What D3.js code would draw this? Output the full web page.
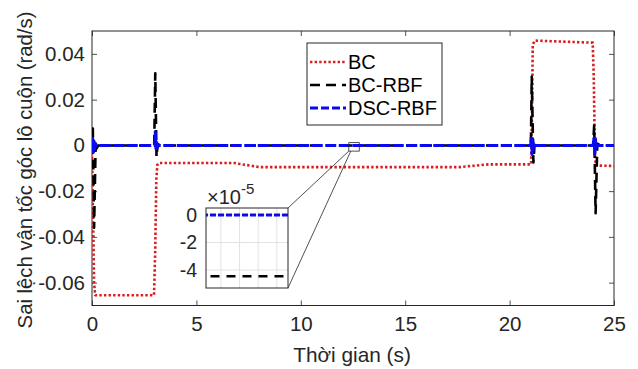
<!DOCTYPE html>
<html>
<head>
<meta charset="utf-8">
<script src="https://cdn.jsdelivr.net/npm/d3@7"></script>
<style>
  html, body { margin: 0; padding: 0; background: #fff; }
  svg { display: block; font-family: "Liberation Sans", Arial, sans-serif; }
</style>
</head>
<body>
<svg id="chart" width="638" height="369"></svg>
<script>
// Time axis and tick labels
const xTicks = [0, 5, 10, 15, 20, 25];
const yTicks = [-0.06, -0.04, -0.02, 0, 0.02, 0.04];
const yTickLabels = ["-0.06", "-0.04", "-0.02", "0", "0.02", "0.04"];

// BC: error of the basic controller
const tBC = [0, 0.03, 0.06, 0.1, 0.15, 2.97, 3.03, 3.08, 3.13, 3.2, 6.8, 7.4, 8.0, 17.6, 18.3, 19.0, 21.03, 21.07, 21.11, 21.2, 23.98, 24.03, 24.08, 24.12, 25];
const vBC = [-0.001, -0.02, -0.036, -0.06, -0.0655, -0.0655, -0.045, -0.015, -0.0085, -0.0077, -0.0077, -0.0086, -0.0095, -0.0095, -0.0089, -0.0083, -0.0083, 0.012, 0.044, 0.0458, 0.0449, 0.03, 0.0, -0.0088, -0.009];

// BC-RBF
const tBCR = [0, 0.04, 0.1, 0.17, 0.3, 2.98, 3.03, 3.09, 3.15, 3.3, 12.0, 13.0, 21.02, 21.06, 21.14, 21.2, 21.35, 24.0, 24.05, 24.12, 24.2, 24.35, 25];
const vBCR = [0, 0.0074, -0.036, -0.002, -4.45e-5, -4.45e-5, 0.0315, -0.005, 0.0005, -4.45e-5, -4.45e-5, -4.45e-5, -4.45e-5, 0.030, -0.0075, 0.0008, -4.45e-5, -4.45e-5, 0.0087, -0.0297, 0.0008, -4.45e-5, -4.45e-5];

// DSC-RBF
const tDSC = [0, 0.03, 0.06, 0.09, 0.12, 0.15, 0.22, 3.0, 3.03, 3.06, 3.09, 3.12, 3.2, 12.0, 13.0, 21.01, 21.04, 21.07, 21.1, 21.13, 21.16, 21.25, 24.0, 24.05, 24.08, 24.11, 24.14, 24.22, 25];
const vDSC = [0, 0.003, -0.003, 0.002, -0.002, 0.001, 0, 0, 0.006, -0.0015, 0.002, -0.001, 0, 0, 0, 0, 0.004, -0.004, 0.003, -0.002, 0.001, 0, 0, 0.004, -0.004, 0.003, -0.001, 0, 0];

const seriesNames = ["BC", "BC-RBF", "DSC-RBF"];

// Zoomed window and its axis
const zoomT = [12.41, 12.63];
const zoomV = [-5.3e-5, 0.5e-5];
const zoomYTicks = [-4e-5, -2e-5, 0];
const zoomYTickLabels = ["-4", "-2", "0"];
const zoomXGrid = [12.45, 12.5, 12.55, 12.6];
const markT = [12.3, 12.8];
const markV = [-0.0025, 0.0012];

const toPts = (t, v) => t.map((d, i) => [d, v[i]]);
const styles = [
  { color: "#d81e1e", width: 2.6, dash: "2.4,2.2", insetDash: "2.4,2.2", data: toPts(tBC, vBC) },
  { color: "#000000", width: 2.6, dash: "10,6", insetDash: "9,7", data: toPts(tBCR, vBCR) },
  { color: "#0a0af0", width: 3, dash: "11,2.5", insetDash: "6,2", data: toPts(tDSC, vDSC) }
];

const svg = d3.select("#chart");
const axisColor = "#262626";
const M = { left: 92, right: 614, top: 31, bottom: 305.5 };

const x = d3.scaleLinear().domain([0, 25]).range([M.left, M.right]);
const y = d3.scaleLinear().domain([-0.07, 0.05]).range([M.bottom, M.top]);

svg.append("clipPath").attr("id", "clipMain")
  .append("rect").attr("x", M.left).attr("y", M.top)
  .attr("width", M.right - M.left).attr("height", M.bottom - M.top);

// Axes with inward ticks on all four sides
const tick = 5;
const gx = svg.append("g").attr("transform", `translate(0,${M.bottom})`)
  .call(d3.axisBottom(x).tickValues(xTicks).tickSize(-tick).tickPadding(11).tickFormat(d3.format("d")));
const gxTop = svg.append("g").attr("transform", `translate(0,${M.top})`)
  .call(d3.axisTop(x).tickValues(xTicks).tickSize(-tick).tickFormat(""));
const gy = svg.append("g").attr("transform", `translate(${M.left},0)`)
  .call(d3.axisLeft(y).tickValues(yTicks).tickSize(-tick).tickPadding(7)
    .tickFormat((d, i) => yTickLabels[i]));
const gyR = svg.append("g").attr("transform", `translate(${M.right},0)`)
  .call(d3.axisRight(y).tickValues(yTicks).tickSize(-tick).tickFormat(""));
[gx, gxTop, gy, gyR].forEach(g => {
  g.select(".domain").remove();
  g.selectAll(".tick line").attr("stroke", axisColor).attr("stroke-width", 0.8);
  g.selectAll(".tick text").attr("fill", axisColor).attr("font-size", 20.5)
    .attr("font-family", "Liberation Sans, Arial, sans-serif");
});

svg.append("rect").attr("x", M.left).attr("y", M.top)
  .attr("width", M.right - M.left).attr("height", M.bottom - M.top)
  .attr("fill", "none").attr("stroke", axisColor).attr("stroke-width", 1);

const line = d3.line().x(d => x(d[0])).y(d => y(d[1]));
const plot = svg.append("g").attr("clip-path", "url(#clipMain)");
styles.forEach(s => {
  plot.append("path").attr("d", line(s.data))
    .attr("fill", "none").attr("stroke", s.color).attr("stroke-width", s.width)
    .attr("stroke-dasharray", s.dash).attr("stroke-linejoin", "round");
});

// Axis titles
svg.append("text").attr("x", (M.left + M.right) / 2 - 1).attr("y", 354)
  .attr("text-anchor", "middle").attr("dominant-baseline", "central")
  .attr("font-size", 20.8).attr("fill", axisColor).text("Thời gian (s)");
svg.append("text").attr("transform", "translate(25,170) rotate(-90)")
  .attr("text-anchor", "middle").attr("dominant-baseline", "central")
  .attr("font-size", 20.3).attr("fill", axisColor).text("Sai lệch vận tốc góc lô cuộn (rad/s)");

// Legend
const lg = svg.append("g");
lg.append("rect").attr("x", 307).attr("y", 43).attr("width", 135).attr("height", 82)
  .attr("fill", "#fff").attr("stroke", axisColor).attr("stroke-width", 1);
styles.forEach((s, i) => {
  const ly = 62 + i * 23;
  lg.append("line").attr("x1", 310).attr("x2", 346).attr("y1", ly).attr("y2", ly)
    .attr("stroke", s.color).attr("stroke-width", s.width).attr("stroke-dasharray", i === 2 ? "8,3" : s.dash);
  lg.append("text").attr("x", 348).attr("y", ly).attr("dominant-baseline", "central")
    .attr("font-size", 20).attr("fill", "#000").text(seriesNames[i]);
});

// Marker of the zoomed window and its connectors
const mx0 = x(markT[0]), mx1 = x(markT[1]);
const my0 = y(markV[1]), my1 = y(markV[0]);
svg.append("rect").attr("x", mx0).attr("y", my0).attr("width", mx1 - mx0).attr("height", my1 - my0)
  .attr("fill", "none").attr("stroke", axisColor).attr("stroke-width", 0.8);

const I = { left: 206, right: 288, top: 208, bottom: 288 };
const xi = d3.scaleLinear().domain(zoomT).range([I.left, I.right]);
const yi = d3.scaleLinear().domain(zoomV).range([I.bottom, I.top]);

svg.append("line").attr("x1", mx0).attr("y1", my1).attr("x2", I.right).attr("y2", I.top)
  .attr("stroke", axisColor).attr("stroke-width", 0.8);
svg.append("line").attr("x1", mx0 + 2).attr("y1", my1).attr("x2", I.right).attr("y2", I.bottom)
  .attr("stroke", axisColor).attr("stroke-width", 0.8);

// Inset
svg.append("clipPath").attr("id", "clipInset")
  .append("rect").attr("x", I.left).attr("y", I.top)
  .attr("width", I.right - I.left).attr("height", I.bottom - I.top);
const ins = svg.append("g");
ins.append("rect").attr("x", I.left).attr("y", I.top)
  .attr("width", I.right - I.left).attr("height", I.bottom - I.top).attr("fill", "#fff");
ins.selectAll("line.gx").data(zoomXGrid).join("line").attr("class", "gx")
  .attr("x1", d => xi(d)).attr("x2", d => xi(d)).attr("y1", I.top).attr("y2", I.bottom)
  .attr("stroke", "#e3e3e3").attr("stroke-width", 1);
ins.selectAll("line.gy").data(zoomYTicks).join("line").attr("class", "gy")
  .attr("x1", I.left).attr("x2", I.right).attr("y1", d => yi(d)).attr("y2", d => yi(d))
  .attr("stroke", "#e3e3e3").attr("stroke-width", 1);
const lineI = d3.line().x(d => xi(d[0])).y(d => yi(d[1]));
const insPlot = ins.append("g").attr("clip-path", "url(#clipInset)");
styles.forEach(s => {
  insPlot.append("path").attr("d", lineI(s.data))
    .attr("fill", "none").attr("stroke", s.color).attr("stroke-width", s.width)
    .attr("stroke-dasharray", s.insetDash);
});
ins.append("rect").attr("x", I.left).attr("y", I.top)
  .attr("width", I.right - I.left).attr("height", I.bottom - I.top)
  .attr("fill", "none").attr("stroke", axisColor).attr("stroke-width", 1);
ins.selectAll("text.yt").data(zoomYTicks).join("text").attr("class", "yt")
  .attr("x", 197).attr("y", d => yi(d)).attr("text-anchor", "end")
  .attr("dominant-baseline", "central").attr("font-size", 19.5).attr("fill", axisColor)
  .text((d, i) => zoomYTickLabels[i]);
const ex = ins.append("text").attr("x", 207).attr("y", 204).attr("font-size", 20).attr("fill", axisColor);
ex.append("tspan").text("×10");
ex.append("tspan").attr("dy", -10).attr("font-size", 15).text("-5");
</script>
</body>
</html>
